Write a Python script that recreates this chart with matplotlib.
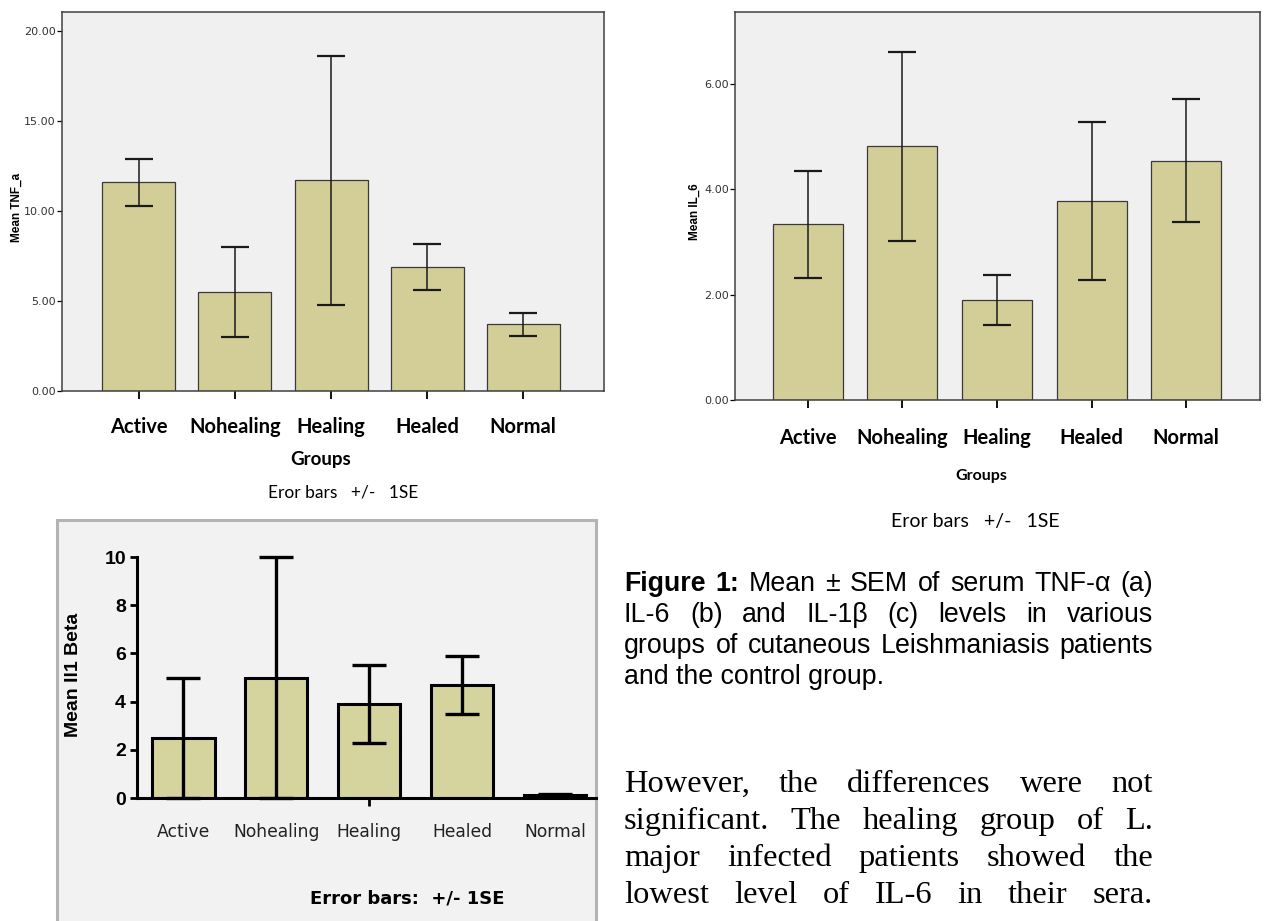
import matplotlib
matplotlib.use("Agg")
import matplotlib.pyplot as plt
import numpy as np
from matplotlib.patches import Rectangle

# ---------------- data ----------------
groups = ["Active", "Nohealing", "Healing", "Healed", "Normal"]
tnf_mean = [11.6, 5.5, 11.7, 6.9, 3.7]
tnf_se = [1.3, 2.5, 6.9, 1.27, 0.65]
il6_mean = [3.33, 4.81, 1.90, 3.77, 4.54]
il6_se = [1.02, 1.80, 0.47, 1.50, 1.17]
il1b_mean = [2.5, 5.0, 3.9, 4.7, 0.12]
il1b_se = [2.5, 5.0, 1.6, 1.2, 0.05]
tnf_ticks = [0, 5, 10, 15, 20]
il6_ticks = [0, 2, 4, 6]
il1b_ticks = [0, 2, 4, 6, 8, 10]

caption_lines = [
    [("Figure", "bold"), ("1:", "bold"), ("Mean", "normal"), ("±", "normal"), ("SEM", "normal"),
     ("of", "normal"), ("serum", "normal"), ("TNF-α", "normal"), ("(a)", "normal")],
    "IL-6 (b) and IL-1β (c) levels in various",
    "groups of cutaneous Leishmaniasis patients",
]
caption_last = "and the control group."
body_lines = [
    "However, the differences were not",
    "significant. The healing group of L.",
    "major infected patients showed the",
    "lowest level of IL-6 in their sera.",
]

W, H = 1267, 921
fig = plt.figure(figsize=(W / 100, H / 100), dpi=100)
fig.patch.set_facecolor("white")


def rect(x0, y0, x1, y1):
    return [x0 / W, 1 - y1 / H, (x1 - x0) / W, (y1 - y0) / H]


def ftext(x, y, s, **kw):
    return fig.text(x / W, 1 - y / H, s, **kw)


BAR = "#d3ce97"
x = np.arange(len(groups))

# ---------------- panel a ----------------
axa = fig.add_axes(rect(62, 12, 604, 391))
axa.set_facecolor("#f0f0f0")
axa.bar(x, tnf_mean, width=0.76, color=BAR, edgecolor="#3a3a3a", lw=0.9, zorder=2)
axa.errorbar(x, tnf_mean, yerr=tnf_se, fmt="none", ecolor="#1a1a1a", elinewidth=1.1,
             capsize=10, capthick=1.6, zorder=3)
axa.set_xlim(-0.8, 4.84)
axa.set_ylim(0, 21.06)
axa.set_yticks(tnf_ticks)
axa.set_yticklabels([f"{v:.2f}" for v in tnf_ticks])
axa.set_xticks(x)
axa.set_xticklabels(groups, fontfamily="Lato", fontweight="bold", fontsize=14.5)
axa.tick_params(axis="y", length=3.5, width=0.9, labelsize=8, labelcolor="#333333", pad=1)
axa.tick_params(axis="x", length=6, width=1.3, pad=13)
for s in axa.spines.values():
    s.set_color("#404040"); s.set_linewidth(1.1)
ftext(17, 207, "Mean TNF_a", rotation=90, ha="center", va="center", fontweight="bold",
      fontsize=8.5, family="Liberation Sans")
ftext(321, 459, "Groups", ha="center", va="center", fontweight="bold", fontsize=13.5, family="Lato")
ftext(343, 492, "Eror bars   +/-   1SE", ha="center", va="center", fontsize=12.5, family="Lato")

# ---------------- panel b ----------------
axb = fig.add_axes(rect(735, 12, 1260, 400))
axb.set_facecolor("#f0f0f0")
axb.bar(x, il6_mean, width=0.74, color=BAR, edgecolor="#3a3a3a", lw=0.9, zorder=2)
axb.errorbar(x, il6_mean, yerr=il6_se, fmt="none", ecolor="#1a1a1a", elinewidth=1.1,
             capsize=10, capthick=1.6, zorder=3)
axb.set_xlim(-0.77, 4.78)
axb.set_ylim(0, 7.36)
axb.set_yticks(il6_ticks)
axb.set_yticklabels([f"{v:.2f}" for v in il6_ticks])
axb.set_xticks(x)
axb.set_xticklabels(groups, fontfamily="Lato", fontweight="bold", fontsize=14.5)
axb.tick_params(axis="y", length=3.5, width=0.9, labelsize=8, labelcolor="#333333", pad=1)
axb.tick_params(axis="x", length=6, width=1.3, pad=14)
for s in axb.spines.values():
    s.set_color("#404040"); s.set_linewidth(1.1)
ftext(695, 212, "Mean IL_6", rotation=90, ha="center", va="center", fontweight="bold",
      fontsize=8.5, family="Liberation Sans")
ftext(981, 476, "Groups", ha="center", va="center", fontweight="bold", fontsize=11.5,
      family="Lato")
ftext(975, 521, "Eror bars   +/-   1SE", ha="center", va="center", fontsize=14,
      family="Lato")

# ---------------- panel c ----------------
frame = Rectangle((57 / W, -0.02), 539 / W, (921 - 520) / H + 0.02, transform=fig.transFigure,
                  facecolor="#f2f2f2", edgecolor="#b4b4b4", lw=2.2, zorder=-5)
fig.patches.append(frame)
axc = fig.add_axes(rect(137, 557, 596, 798))
axc.set_zorder(2)
axc.set_facecolor("none")
axc.bar(x, il1b_mean, width=0.67, color="#d6d49e", edgecolor="black", lw=2.2, zorder=2)
axc.errorbar(x, il1b_mean, yerr=il1b_se, fmt="none", ecolor="black", elinewidth=2.4,
             capsize=12.5, capthick=2.4, zorder=3, clip_on=False)
axc.set_xlim(-0.5, 4.44)
axc.set_ylim(0, 10)
axc.set_yticks(il1b_ticks)
axc.set_yticklabels([str(v) for v in il1b_ticks], fontweight="bold", fontsize=14,
                    family="Liberation Sans")
axc.set_xticks(x)
axc.set_xticklabels(groups, fontsize=12.3, family="DejaVu Sans", color="#222222")
axc.tick_params(axis="y", length=5, width=2.0, pad=3)
axc.tick_params(axis="x", length=0, width=2.0, pad=18)
t = axc.xaxis.get_major_ticks()[2]
t.tick1line.set_markersize(6)
t.tick1line.set_markeredgewidth(2.0)
for k in ("top", "right"):
    axc.spines[k].set_visible(False)
for k in ("left", "bottom"):
    axc.spines[k].set_linewidth(2.2); axc.spines[k].set_color("black")
ftext(73, 675, "Mean Il1 Beta", rotation=90, ha="center", va="center", fontweight="bold",
      fontsize=14, family="Liberation Sans")
ftext(407, 898, "Error bars:  +/- 1SE", ha="center", va="center", fontweight="bold",
      fontsize=13, family="DejaVu Sans")

# ---------------- caption and body text (justified) ----------------
renderer = fig.canvas.get_renderer()


def justified(words, x0, x1, baseline, family, size):
    objs = []
    for w, wt in words:
        objs.append(ftext(0, baseline, w, ha="left", va="baseline", family=family,
                          fontsize=size, fontweight=wt))
    widths = [o.get_window_extent(renderer).width for o in objs]
    gap = (x1 - x0 - sum(widths)) / (len(objs) - 1)
    pos = x0
    for o, wd in zip(objs, widths):
        o.set_x(pos / W)
        pos += wd + gap


CAP_FONT = "Liberation Sans"
cap_size = 19.3
cap_base = [591, 622, 653]
for line, yb in zip(caption_lines, cap_base):
    if isinstance(line, str):
        line = [(w, "normal") for w in line.split()]
    justified(line, 624, 1153, yb, CAP_FONT, cap_size)
ftext(624, 684, caption_last, ha="left", va="baseline", family=CAP_FONT, fontsize=cap_size)

body_base = [792, 829, 866, 903]
for line, yb in zip(body_lines, body_base):
    justified([(w, "normal") for w in line.split()], 624, 1153, yb, "Liberation Serif", 23.4)

fig.savefig("out.png", dpi=100)
